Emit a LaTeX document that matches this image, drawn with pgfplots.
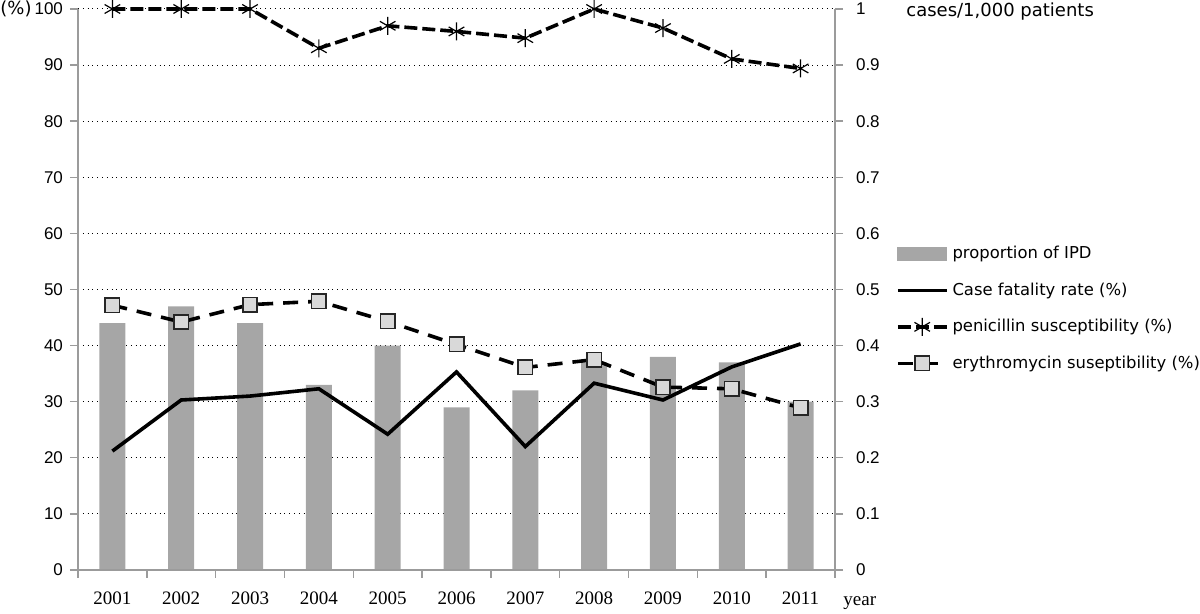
\documentclass[border=0pt]{standalone}
\usepackage{pgfplots}
\pgfplotsset{compat=1.18}
\usepackage{fontspec}
\setmainfont{DejaVu Sans}
\newfontfamily\tickfont{Liberation Sans}
\newfontfamily\serifx{Liberation Serif}
\definecolor{barg}{RGB}{166,166,166}
\definecolor{axg}{RGB}{155,155,155}
\definecolor{mkg}{RGB}{217,217,217}
\begin{document}
\begin{tikzpicture}[font=\fontsize{9}{11}\selectfont]
\useasboundingbox (-39pt,-22pt) rectangle (561pt,285pt);
% right axis with bars
\begin{axis}[
  at={(0,0)}, anchor=south west,
  scale only axis, width=378.5pt, height=280.5pt,
  xmin=-0.5, xmax=10.5, ymin=0, ymax=1,
  axis y line*=right, axis x line=none,
  axis line style={axg, line width=0.7pt, -},
  ytick={0,0.1,...,1.01},
  yticklabels={0,0.1,0.2,0.3,0.4,0.5,0.6,0.7,0.8,0.9,1},
  yticklabel style={xshift=3pt, font=\tickfont\fontsize{8.5}{10}\selectfont},
  tick align=outside, major tick length=4pt,
  tick style={axg, line width=0.7pt},
  ymajorgrids, grid style={black, dotted, line width=0.5pt},
  /pgf/number format/assume math mode=true,
]
\addplot[ybar, bar width=13pt, fill=barg, draw=none] coordinates {
 (0,0.44) (1,0.47) (2,0.44) (3,0.33) (4,0.40) (5,0.29)
 (6,0.32) (7,0.37) (8,0.38) (9,0.37) (10,0.30)};
\end{axis}
% left axis with lines
\begin{axis}[
  at={(0,0)}, anchor=south west,
  scale only axis, width=378.5pt, height=280.5pt,
  xmin=-0.5, xmax=10.5, ymin=0, ymax=100,
  axis y line*=left, axis x line*=bottom,
  axis line style={axg, line width=0.7pt, -},
  xtick={0,...,10},
  xticklabels={2001,2002,2003,2004,2005,2006,2007,2008,2009,2010,2011},
  xticklabel style={yshift=-3.5pt, font=\serifx\fontsize{9.5}{11}\selectfont},
  yticklabel style={font=\tickfont\fontsize{8.5}{10}\selectfont},
  minor xtick={-0.5,0.5,...,10.6},
  major x tick style={draw=none},
  ytick={0,10,...,100},
  tick align=outside, major tick length=4pt, minor tick length=4pt,
  tick style={axg, line width=0.7pt},
  /pgf/number format/assume math mode=true,
  clip=false,
  legend image code/.code={\draw[mark repeat=2,mark phase=2,#1] plot coordinates {(0cm,0cm) (0.43cm,0cm) (0.86cm,0cm)};},
  legend style={at={(1.08,0.585)}, anchor=north west, draw=none, fill=none,
    row sep=6.5pt, inner sep=0pt, font=\fontsize{8.2}{10}\selectfont,
    nodes={inner xsep=2pt}},
  legend cell align=left,
]
\addlegendimage{legend image code/.code={\fill[barg] (0cm,-0.11cm) rectangle (0.86cm,0.11cm);}}
\addlegendentry{proportion of IPD}
\addplot[black, line width=1.8pt] coordinates {
 (0,21.2) (1,30.3) (2,31.0) (3,32.3) (4,24.2) (5,35.3)
 (6,22.0) (7,33.3) (8,30.3) (9,36.2) (10,40.3)};
\addlegendentry{Case fatality rate (\%)}
\addplot[black, line width=1.8pt, dash pattern=on 6.5pt off 2.5pt,
  mark=asterisk, mark size=4.5pt, mark options={solid, line width=0.6pt}] coordinates {
 (0,100) (1,100) (2,100) (3,93.0) (4,97.0) (5,96.0)
 (6,94.8) (7,100) (8,96.6) (9,91.1) (10,89.4)};
\addlegendentry{penicillin susceptibility (\%)}
\addplot[black, line width=1.8pt, dash pattern=on 7.5pt off 5pt,
  mark=square*, mark size=3.6pt, mark options={solid, fill=mkg, line width=0.8pt, draw=black!85}] coordinates {
 (0,47.2) (1,44.2) (2,47.3) (3,47.9) (4,44.3) (5,40.2)
 (6,36.1) (7,37.5) (8,32.6) (9,32.3) (10,28.9)};
\addlegendentry{erythromycin suseptibility (\%)}
\node[anchor=east, inner sep=0pt] at ([xshift=-23pt]rel axis cs:0,1) {(\%)};
\node[anchor=west, inner sep=0pt] at ([xshift=35.5pt,yshift=-1.5pt]rel axis cs:1,1) {cases/1,000 patients};
\node[anchor=base west, inner sep=0pt, font=\serifx\fontsize{9.5}{11}\selectfont] at ([xshift=4pt,yshift=-18pt]rel axis cs:1,0) {year};
\end{axis}
\end{tikzpicture}
\end{document}
